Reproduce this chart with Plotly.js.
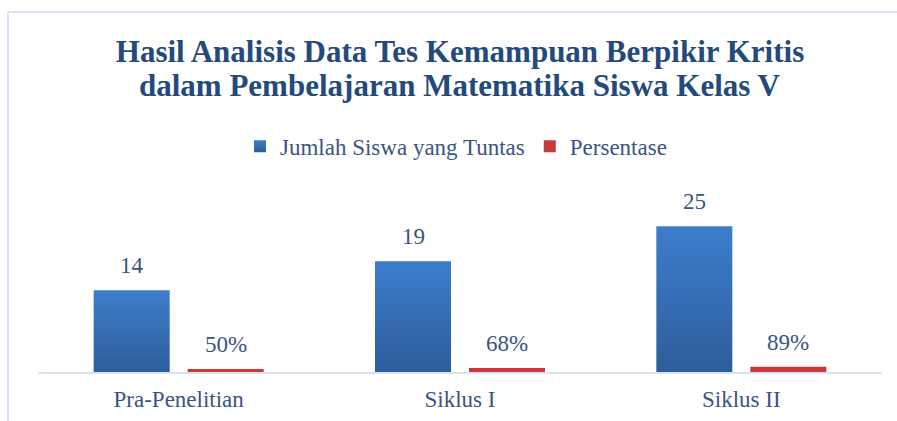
<!DOCTYPE html>
<html>
<head>
<meta charset="utf-8">
<script src="https://cdn.plot.ly/plotly-3.0.1.min.js"></script>
<style>
  html, body { margin: 0; padding: 0; background: #ffffff; }
  #chart { width: 897px; height: 421px; }
</style>
</head>
<body>
<div id="chart"></div>
<script>
const categories = ["Pra-Penelitian", "Siklus I", "Siklus II"];
const seriesNames = ["Jumlah Siswa yang Tuntas", "Persentase"];
const jumlahTuntas = [14, 19, 25];
const persentase = [0.50, 0.68, 0.89];
const jumlahLabels = ["14", "19", "25"];
const persenLabels = ["50%", "68%", "89%"];
const titleLines = ["Hasil Analisis Data Tes Kemampuan Berpikir Kritis",
                    "dalam Pembelajaran Matematika Siswa Kelas V"];

const FONT = "Liberation Serif";
const TEXT_COLOR = "#3a5482";
const TITLE_COLOR = "#244a7c";

const traces = [
  {
    type: "bar", name: seriesNames[0], x: categories, y: jumlahTuntas,
    marker: { color: "#3670b8" }, hoverinfo: "skip"
  },
  {
    type: "bar", name: seriesNames[1], x: categories, y: persentase,
    marker: { color: "#c63b3a" }, hoverinfo: "skip"
  }
];

const annotations = [];
categories.forEach((c, i) => {
  annotations.push({
    x: c, y: jumlahTuntas[i], xref: "x", yref: "y", text: jumlahLabels[i],
    showarrow: false, yanchor: "bottom", xshift: -47, yshift: 10,
    font: { family: FONT, size: 23, color: TEXT_COLOR }
  });
  annotations.push({
    x: c, y: persentase[i], xref: "x", yref: "y", text: persenLabels[i],
    showarrow: false, yanchor: "bottom", xshift: 47, yshift: 10,
    font: { family: FONT, size: 23, color: TEXT_COLOR }
  });
});
// second title line
annotations.push({
  xref: "paper", yref: "paper", x: 0.5, y: (372 - 86) / 175,
  xanchor: "center", yanchor: "middle", showarrow: false,
  text: "<b>" + titleLines[1] + "</b>",
  font: { family: FONT, size: 31, color: TITLE_COLOR }
});

const layout = {
  width: 897, height: 421,
  margin: { l: 38, r: 15, t: 197, b: 49 },
  paper_bgcolor: "#ffffff", plot_bgcolor: "#ffffff",
  font: { family: FONT, color: TEXT_COLOR },
  title: {
    text: "<b>" + titleLines[0] + "</b>",
    font: { family: FONT, size: 31, color: TITLE_COLOR },
    x: 0.5, xanchor: "center", xref: "paper",
    y: 1 - 51 / 421, yanchor: "middle", yref: "container"
  },
  barmode: "group",
  bargap: 0.3317,
  bargroupgap: 0.1915,
  showlegend: true,
  legend: {
    orientation: "h", x: (240 - 38) / 844, xanchor: "left", y: 1.29, yanchor: "middle",
    font: { family: FONT, size: 23, color: TEXT_COLOR },
    itemclick: false, itemdoubleclick: false
  },
  xaxis: {
    type: "category",
    showline: true, linecolor: "#d8e3f1", linewidth: 2,
    ticks: "", showgrid: false, zeroline: false,
    ticklabelstandoff: 5,
    tickfont: { family: FONT, size: 23, color: TEXT_COLOR }
  },
  yaxis: {
    range: [0, 30], showticklabels: false, showgrid: false,
    zeroline: false, showline: false, ticks: ""
  },
  annotations: annotations,
  shapes: [
    { type: "line", xref: "paper", yref: "paper",
      x0: (8 - 38) / 844, x1: (897 - 38) / 844, y0: (372 - 12) / 175, y1: (372 - 12) / 175,
      line: { color: "#d6e4f4", width: 2 } },
    { type: "line", xref: "paper", yref: "paper",
      x0: (8 - 38) / 844, x1: (8 - 38) / 844, y0: (372 - 12) / 175, y1: (372 - 421) / 175,
      line: { color: "#d6e4f4", width: 2 } }
  ]
};

Plotly.newPlot("chart", traces, layout, { displayModeBar: false, staticPlot: true }).then(gd => {
  // vertical gradient fill for the blue bars (style only)
  const svg = gd.querySelector("svg.main-svg");
  const ns = "http://www.w3.org/2000/svg";
  let defs = svg.querySelector("defs");
  if (!defs) { defs = document.createElementNS(ns, "defs"); svg.insertBefore(defs, svg.firstChild); }
  const mk = (id, top, bot) => {
    const g = document.createElementNS(ns, "linearGradient");
    g.setAttribute("id", id); g.setAttribute("x1", "0"); g.setAttribute("y1", "0");
    g.setAttribute("x2", "0"); g.setAttribute("y2", "1");
    [[0, top], [1, bot]].forEach(([o, c]) => {
      const s = document.createElementNS(ns, "stop");
      s.setAttribute("offset", o); s.setAttribute("stop-color", c); g.appendChild(s);
    });
    defs.appendChild(g);
  };
  mk("gradBlue", "#3c7ecc", "#2e5d9b");
  mk("gradLegend", "#3c7ecc", "#2e5d9b");
  const barTraces = gd.querySelectorAll(".barlayer .trace");
  if (barTraces[0]) barTraces[0].querySelectorAll("path").forEach(p => p.style.fill = "url(#gradBlue)");
  const legendPts = gd.querySelectorAll(".legend .traces");
  if (legendPts[0]) legendPts[0].querySelectorAll("path.legendundefined, .legendpoints path").forEach(p => p.style.fill = "url(#gradLegend)");
});
</script>
</body>
</html>
